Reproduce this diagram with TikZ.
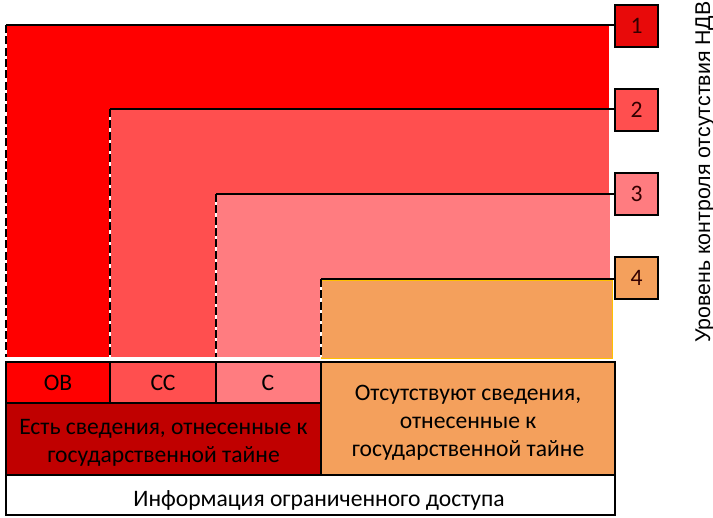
\documentclass[tikz,border=0pt]{standalone}
\usepackage{fontspec}
\setmainfont{Carlito}
\newfontfamily\axisfont{Liberation Sans}
\definecolor{lvlone}{RGB}{255,0,0}
\definecolor{lvltwo}{RGB}{255,79,79}
\definecolor{lvlthree}{RGB}{255,124,128}
\definecolor{lvlfour}{RGB}{244,160,92}
\definecolor{lvlfourrim}{RGB}{255,192,0}
\definecolor{secretdark}{RGB}{192,0,0}
\definecolor{numone}{RGB}{232,10,10}

\begin{document}
\begin{tikzpicture}[x=0.75pt,y=0.75pt,yscale=-1,xscale=1,
  edge/.style={line width=1.2pt},
  guide/.style={line width=1.2pt,dash pattern=on 6pt off 2.5pt},
  underlay/.style={white,line width=1.6pt},
  numbox/.style={draw,line width=1.2pt,minimum width=32.25pt,minimum height=31.5pt,inner sep=0pt,text=black!80!red},
  lbl/.style={inner sep=0.75pt,align=center,font=\fontsize{17.7}{21}\selectfont}]
\useasboundingbox (0,0) rectangle (713,517);

%Shape: Bands
\fill[lvlone] (6,25) rectangle (609,357);
\fill[lvltwo] (110,109) rectangle (609,357);
\fill[lvlthree] (216,194) rectangle (610,357);
\draw[lvlfourrim,line width=0.6pt,fill=lvlfour] (321,280) rectangle (612,358);

%Coordinates: band corners
\coordinate (c1) at (6,25);
\coordinate (c2) at (110,109);
\coordinate (c3) at (216,194);
\coordinate (c4) at (321,279);

%Shape: Level boxes
\node[numbox,fill=numone,lbl] (n1) at (636.5,26) {1};
\node[numbox,fill=lvltwo,lbl] (n2) at (636.5,110) {2};
\node[numbox,fill=lvlthree,lbl] (n3) at (636.5,194) {3};
\node[numbox,fill=lvlfour,lbl] (n4) at (636.5,278) {4};

%Dashed Lines
\foreach \c in {c1,c2,c3,c4}{
  \draw[underlay] (\c) -- (\c |- 0,357);
  \draw[guide] (\c) -- (\c |- 0,357);
}
%Straight Lines
\foreach \i in {1,2,3,4}{
  \draw[edge] (c\i) -- (c\i -| n\i.west);
}

%Shape: Table
\draw[edge,fill=white] (6,362) rectangle (615,515);
\draw[edge,fill=lvlone] (6,362) rectangle (110,403);
\draw[edge,fill=lvltwo] (110,362) rectangle (216,403);
\draw[edge,fill=lvlthree] (216,362) rectangle (321,403);
\draw[edge,fill=secretdark] (6,403) rectangle (321,475);
\draw[edge,fill=lvlfour] (321,362) rectangle (615,475);

% Text Node
\node[lbl,anchor=base] (ov) at (58,390) {ОВ};
\node[lbl,anchor=base] (ss) at (163,390) {СС};
\node[lbl,anchor=base] (s) at (268,390) {С};
\node[lbl] (yes) at (163.5,443) {Есть сведения, отнесенные к\\государственной тайне};
\node[lbl] (no) at (468,423) {Отсутствуют сведения,\\отнесенные к\\государственной тайне};
\node[lbl,anchor=base] (info) at (319,506) {Информация ограниченного доступа};
\node[rotate=90,anchor=base,inner sep=0pt,font=\axisfont\fontsize{16}{19}\selectfont] (axis) at (710,172) {Уровень контроля отсутствия НДВ};

\end{tikzpicture}
\end{document}
